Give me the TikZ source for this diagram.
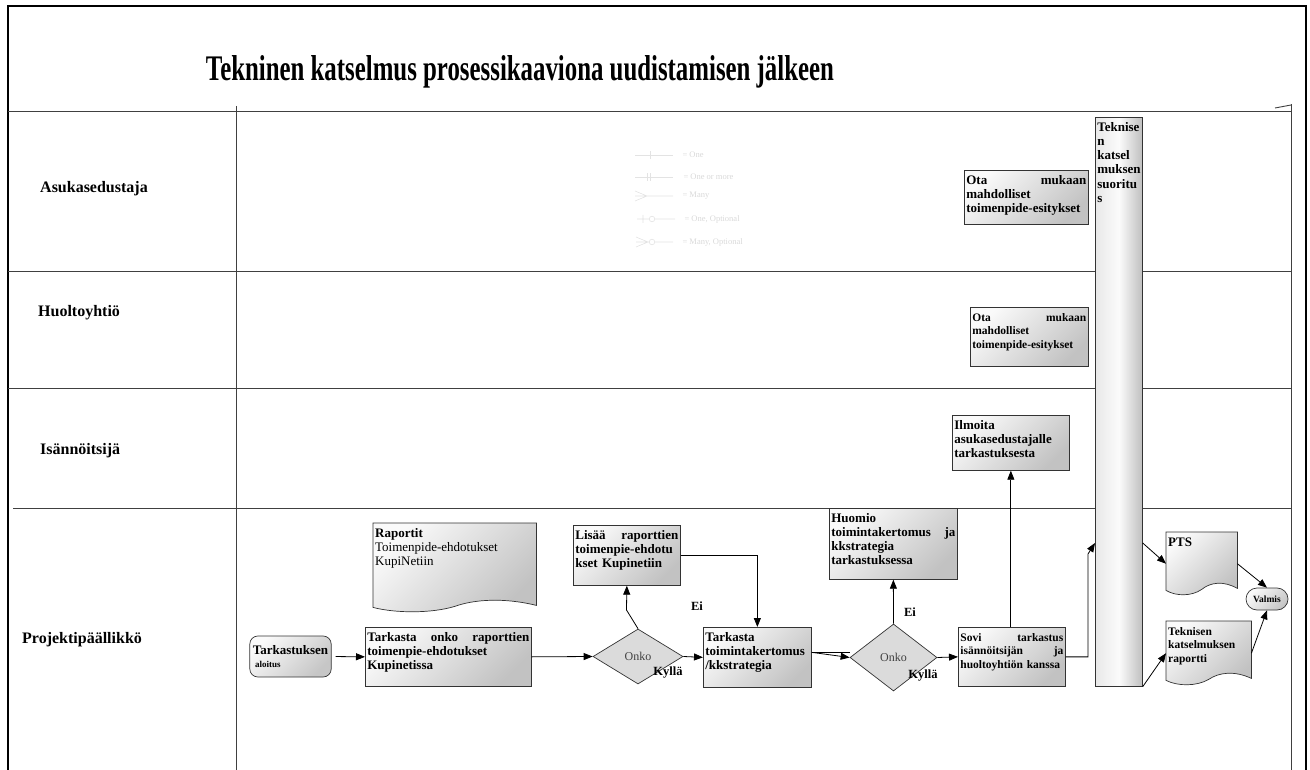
\documentclass[tikz,border=0pt]{standalone}
\usepackage{graphicx}
\usepackage{fontspec}
\setmainfont{Liberation Serif}
\usetikzlibrary{arrows.meta,positioning,shapes.geometric,calc,backgrounds}

% document symbol with a wavy lower edge, drawn round a named node
\newcommand{\docshape}[1]{%
  \draw[docfill] (#1.north west) -- (#1.north east) -- ($(#1.south east)+(0,7pt)$)
    .. controls ($(#1.south west)!0.8!(#1.south east)+(0,15pt)$) and ($(#1.south west)!0.62!(#1.south east)+(0,13pt)$) .. ($(#1.south west)!0.5!(#1.south east)+(0,6pt)$)
    .. controls ($(#1.south west)!0.36!(#1.south east)+(0,-1pt)$) and ($(#1.south west)!0.14!(#1.south east)+(0,-1pt)$) .. ($(#1.south west)+(0,5pt)$) -- cycle;}

\begin{document}
\begin{tikzpicture}[
    x=1pt, y=-1pt,
    every node/.style={font=\fontsize{13}{14.2}\selectfont\bfseries},
    lane/.style={anchor=west, inner sep=0pt, font=\fontsize{16}{18}\selectfont\bfseries},
    box/.style={draw=black!80, line width=0.7pt, anchor=north west, align=left, inner sep=2pt, text height=12pt, top color=gray!4, bottom color=gray!48, shading angle=45},
    smallbox/.style={box, font=\fontsize{11.5}{13.5}\selectfont\bfseries},
    column/.style={box, left color=gray!18, right color=gray!50, middle color=gray!3},
    doc/.style={anchor=north west, align=left, inner sep=2pt, text height=12pt},
    docfill/.style={draw=black!80, line width=0.7pt, top color=gray!4, bottom color=gray!48, shading angle=45},
    decision/.style={diamond, draw=black!80, line width=0.7pt, fill=gray!28, inner sep=0pt, font=\fontsize{12}{14}\selectfont\color{black!75}},
    terminal/.style={draw=black!80, line width=0.7pt, top color=gray!4, bottom color=gray!45, shading angle=45, align=left},
    answer/.style={font=\fontsize{12.5}{14}\selectfont\bfseries},
    lanerule/.style={draw=black!75, line width=0.9pt},
    legend/.style={draw=gray!22, line width=0.6pt},
    legendtext/.style={anchor=west, text=gray!30, font=\fontsize{8.5}{10}\selectfont},
    flow/.style={-{Triangle[length=9pt,width=7pt]}, line width=0.8pt}
]
\useasboundingbox (0,0) rectangle (1310,770);

% frame and swimlanes
\draw[line width=1.3pt] (8,770) -- (8,6) -- (1306,6) -- (1306,770);
\draw[lanerule] (8,111) -- (1291,111);
\draw[lanerule] (8,271) -- (1291,271);
\draw[lanerule] (8,388) -- (1291,388);
\draw[lanerule] (13,508) -- (1291,508);
\draw[lanerule] (236,106) -- (236,770);
\draw[lanerule] (1291,104) -- (1291,770);
\draw[lanerule] (1275,108) -- (1291,105);

\node[font=\fontsize{36}{40}\selectfont\bfseries] (title) at (520,72) {\scalebox{0.69}[1]{Tekninen katselmus prosessikaaviona uudistamisen jälkeen}};

\node[lane] (asukas) at (40,189) {Asukasedustaja};
\node[lane] (huolto) at (38,313) {Huoltoyhtiö};
\node[lane] (isann) at (40,451) {Isännöitsijä};
\node[lane] (projekti) at (22,640) {Projektipäällikkö};

% faint legend
\draw[legend] (635,155) -- (673,155) (650,151) -- (650,159);
\draw[legend] (635,177) -- (673,177) (647,173) -- (647,181) (650,173) -- (650,181);
\draw[legend] (635,196) -- (673,196) (635,191) -- (647,196) -- (635,201);
\draw[legend] (637,219) -- (649,219) (655,219) -- (675,219) (643,215) -- (643,223) (652,219) circle (2.8);
\draw[legend] (636,242) -- (649,242) (655,242) -- (673,242) (636,237) -- (648,242) -- (636,247) (652,242) circle (2.8);
\node[legendtext] (l1) at (679,155) {= One};
\node[legendtext] (l2) at (680,177) {= One or more};
\node[legendtext] (l3) at (679,196) {= Many};
\node[legendtext] (l4) at (681,219) {= One, Optional};
\node[legendtext] (l5) at (679,242) {= Many, Optional};

% upper lanes
\node[box, text width=120pt, text depth=38pt] (ota1) at (964,170) {Ota\hfill mukaan\\mahdolliset\\toimenpide-esitykset};
\node[smallbox, text width=114pt, text depth=43pt] (ota2) at (970,307) {Ota\hfill mukaan\\mahdolliset\\toimenpide-esitykset};
\node[box, text width=113pt, text depth=39pt] (ilmoita) at (952,415) {Ilmoita\\asukasedustajalle\\tarkastuksesta};
\node[column, text width=43pt, text depth=553pt] (suoritus) at (1095,117) {Teknise\\n\\katsel\\muksen\\suoritu\\s};

% project manager lane
\node[terminal, rounded corners=8pt, minimum width=79pt, minimum height=41pt, inner sep=3pt] (aloitus) at (290.5,656.5) {Tarkastuksen\\[-2pt]{\fontsize{9}{10}\selectfont\ aloitus}};
\node[box, text width=162pt, text depth=43pt] (tarkasta1) at (365,627) {Tarkasta\hfill onko\hfill raporttien\\toimenpie-ehdotukset\\Kupinetissa};
\node[doc, text width=159pt, text depth=73pt] (raportit) at (373,523) {Raportit\\\mdseries Toimenpide-ehdotukset\\\mdseries KupiNetiin};
\node[decision, minimum width=90pt, minimum height=55pt] (onko1) at (638,656.5) {Onko};
\node[box, text width=103pt, text depth=44pt] (lisaa) at (573,525) {Lisää\hfill raporttien\\toimenpie-ehdotu\\kset Kupinetiin};
\node[box, text width=104pt, text depth=44pt] (tarkasta2) at (703,627) {Tarkasta\\toimintakertomus\\/kkstrategia};
\node[decision, minimum width=87pt, minimum height=67pt] (onko2) at (893.5,657.5) {Onko};
\node[box, text width=124pt, text depth=55pt] (huomio) at (829,508) {Huomio\\toimintakertomus\hfill ja\\kkstrategia\\tarkastuksessa};
\node[smallbox, text width=103pt, text depth=43pt] (sovi) at (958,627) {Sovi\hfill tarkastus\\isännöitsijän\hfill ja\\huoltoyhtiön kanssa};
\node[doc, text width=67pt, text depth=47pt] (pts) at (1166,532) {PTS};
\node[doc, font=\fontsize{11.5}{13.5}\selectfont\bfseries, text width=81pt, text depth=48pt] (raportti) at (1166,621) {Teknisen\\katselmuksen\\raportti};
\node[terminal, rounded corners=11pt, minimum width=42pt, minimum height=22pt, inner sep=1pt, font=\fontsize{9.5}{11}\selectfont\bfseries] (valmis) at (1267,599) {Valmis};

\node[answer] (kylla1) at (668,673) {Kyllä};
\node[answer] (ei1) at (697,606) {Ei};
\node[answer] (ei2) at (910,612) {Ei};
\node[answer] (kylla2) at (923,676) {Kyllä};

\begin{scope}[on background layer]
\docshape{raportit}
\docshape{pts}
\docshape{raportti}
\end{scope}

% connectors
\coordinate (bend1) at (626.5,610);
\coordinate (bend2) at (1088,554);
\coordinate (colin) at (1095,543);
\draw[flow, shorten <=4pt] (aloitus.east) -- (tarkasta1.west);
\draw[flow] (tarkasta1.east) -- (onko1.west);
\draw[flow] (onko1.north) -- (bend1) -- (lisaa.south);
\draw[flow] (lisaa.east) -| (tarkasta2.north);
\draw[flow] (onko1.east) -- (tarkasta2.west);
\draw[line width=0.8pt] ([yshift=5pt]tarkasta2.east) -- ([yshift=5pt]tarkasta2.east -| onko2.west);
\draw[flow] ([yshift=5pt]tarkasta2.east) -- (onko2.west);
\draw[flow] (onko2.north) -- (huomio.south);
\draw[flow] (onko2.east) -- (sovi.west);
\draw[flow] (sovi.north -| ilmoita.south) -- (ilmoita.south);
\draw[flow] (sovi.east) -| (bend2) -- (colin);
\draw[flow] (suoritus.east |- colin) -- (pts.west);
\draw[flow] (suoritus.south east) -- (raportti.west);
\draw[flow] (pts.east) -- (valmis.north);
\draw[flow] (raportti.east) -- (valmis.south);
\end{tikzpicture}
\end{document}
